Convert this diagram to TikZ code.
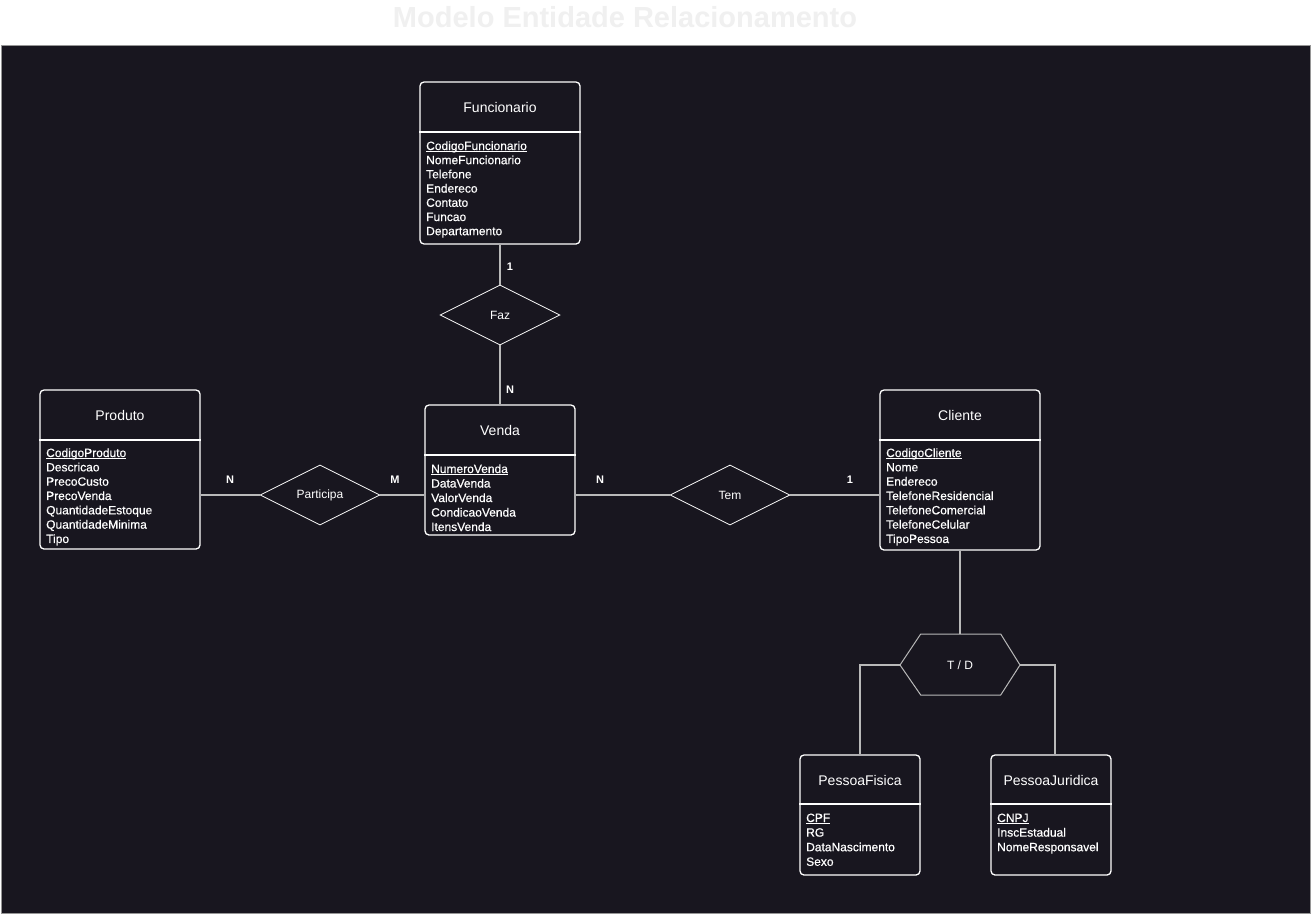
\documentclass[tikz,border=0pt]{standalone}
\usepackage{fontspec}
\setmainfont{Liberation Sans}
\newfontfamily\attrfont{Liberation Sans}[BoldFont={Liberation Sans}, BoldFeatures={FakeBold=0.5}]
\usetikzlibrary{shapes.geometric}
\definecolor{bgdark}{RGB}{24,22,31}
\definecolor{titlegray}{RGB}{240,240,240}
\definecolor{linegray}{RGB}{185,185,185}
\definecolor{framegray}{RGB}{150,150,150}
\newcommand\keyattr[1]{{\setbox0\hbox{#1}\rlap{\rule[-1.6pt]{\wd0}{0.8pt}}\box0}}
\begin{document}
\begin{tikzpicture}[x=1pt,y=-1pt,
  entbox/.style={draw=white, line width=1.3pt, rounded corners=4pt, inner sep=0pt},
  entline/.style={draw=white, line width=1.3pt},
  enttitle/.style={text=white, font=\fontsize{14}{16}\selectfont, inner sep=0pt},
  attr/.style={text=white, font=\attrfont\bfseries\fontsize{12}{14}\selectfont, inner sep=0pt, anchor=base west},
  rel/.style={diamond, draw=white, line width=0.8pt, minimum width=120pt, minimum height=60pt, inner sep=0pt, text=white, font=\fontsize{12}{14}\selectfont},
  card/.style={text=white, font=\bfseries\fontsize{11}{13}\selectfont, inner sep=0pt},
  conn/.style={draw=linegray, line width=1.1pt},
]
\useasboundingbox (0,0) rectangle (1311,916);
\fill[white] (0,0) rectangle (1311,916);
\draw[fill=bgdark, draw=framegray, line width=0.8pt] (1,45) rectangle (1310,913);
\node[text=titlegray, font=\bfseries\fontsize{29}{32}\selectfont, inner sep=0pt] (title) at (625,17) {Modelo Entidade Relacionamento};

% Funcionario
\node[entbox, minimum width=160pt, minimum height=162pt] (func) at (500,163) {};
\draw[entline] (func.west |- 0,132) -- (func.east |- 0,132);
\node[enttitle] (funct) at (500,107) {Funcionario};
\foreach \t [count=\i] in {{\keyattr{CodigoFuncionario}},NomeFuncionario,Telefone,Endereco,Contato,Funcao,Departamento}
  \node[attr] (fa\i) at (426,{150+14.2*(\i-1)}) {\t};

% Produto
\node[entbox, minimum width=160pt, minimum height=159pt] (prod) at (120,469.5) {};
\draw[entline] (prod.west |- 0,440) -- (prod.east |- 0,440);
\node[enttitle] (prodt) at (120,415) {Produto};
\foreach \t [count=\i] in {{\keyattr{CodigoProduto}},Descricao,PrecoCusto,PrecoVenda,QuantidadeEstoque,QuantidadeMinima,Tipo}
  \node[attr] (pa\i) at (46,{457+14.33*(\i-1)}) {\t};

% Venda
\node[entbox, minimum width=150pt, minimum height=130pt] (venda) at (500,470) {};
\draw[entline] (venda.west |- 0,455) -- (venda.east |- 0,455);
\node[enttitle] (vendat) at (500,430) {Venda};
\foreach \t [count=\i] in {{\keyattr{NumeroVenda}},DataVenda,ValorVenda,CondicaoVenda,ItensVenda}
  \node[attr] (va\i) at (431,{473+14.5*(\i-1)}) {\t};

% Cliente
\node[entbox, minimum width=160pt, minimum height=160pt] (cli) at (960,470) {};
\draw[entline] (cli.west |- 0,440) -- (cli.east |- 0,440);
\node[enttitle] (clit) at (960,415) {Cliente};
\foreach \t [count=\i] in {{\keyattr{CodigoCliente}},Nome,Endereco,TelefoneResidencial,TelefoneComercial,TelefoneCelular,TipoPessoa}
  \node[attr] (ca\i) at (886,{457+14.33*(\i-1)}) {\t};

% PessoaFisica
\node[entbox, minimum width=120pt, minimum height=120pt] (pf) at (860,815) {};
\draw[entline] (pf.west |- 0,804) -- (pf.east |- 0,804);
\node[enttitle] (pft) at (860,780) {PessoaFisica};
\foreach \t [count=\i] in {{\keyattr{CPF}},RG,DataNascimento,Sexo}
  \node[attr] (pfa\i) at (806,{822+14.6*(\i-1)}) {\t};

% PessoaJuridica
\node[entbox, minimum width=120pt, minimum height=120pt] (pj) at (1051,815) {};
\draw[entline] (pj.west |- 0,804) -- (pj.east |- 0,804);
\node[enttitle] (pjt) at (1051,780) {PessoaJuridica};
\foreach \t [count=\i] in {{\keyattr{CNPJ}},InscEstadual,NomeResponsavel}
  \node[attr] (pja\i) at (997,{822+14.6*(\i-1)}) {\t};

% Relationships
\node[rel] (faz) at (500,315) {Faz};
\node[rel] (part) at (320,495) {Participa};
\node[rel] (tem) at (730,495) {Tem};

% Hexagon T / D
\coordinate (hxL) at (900,665);
\coordinate (hxTL) at (920.7,634);
\coordinate (hxTR) at (1000.7,634);
\coordinate (hxR) at (1020,665);
\coordinate (hxBR) at (1000.7,695);
\coordinate (hxBL) at (920.7,695);
\coordinate (hxT) at (960,634);
\draw[draw=linegray, line width=1pt] (hxL) -- (hxTL) -- (hxTR) -- (hxR) -- (hxBR) -- (hxBL) -- cycle;
\node[text=white, font=\fontsize{12}{14}\selectfont, inner sep=0pt] (td) at (960,665) {T / D};

% Connectors
\draw[conn] (func.south) -- (faz.north);
\draw[conn] (faz.south) -- (venda.north);
\draw[conn] (part.west) -- (part.west -| prod.east);
\draw[conn] (part.east) -- (part.east -| venda.west);
\draw[conn] (tem.west) -- (tem.west -| venda.east);
\draw[conn] (tem.east) -- (tem.east -| cli.west);
\draw[conn] (cli.south) -- (hxT);
\draw[conn] (hxL) -| (pf.north);
\draw[conn] (hxR) -| ([xshift=4pt]pj.north);

% Cardinalities
\node[card] (c1) at (510,267) {1};
\node[card] (c2) at (510,390) {N};
\node[card] (c3) at (230,480) {N};
\node[card] (c4) at (395,480) {M};
\node[card] (c5) at (600,480) {N};
\node[card] (c6) at (850,480) {1};
\end{tikzpicture}
\end{document}
